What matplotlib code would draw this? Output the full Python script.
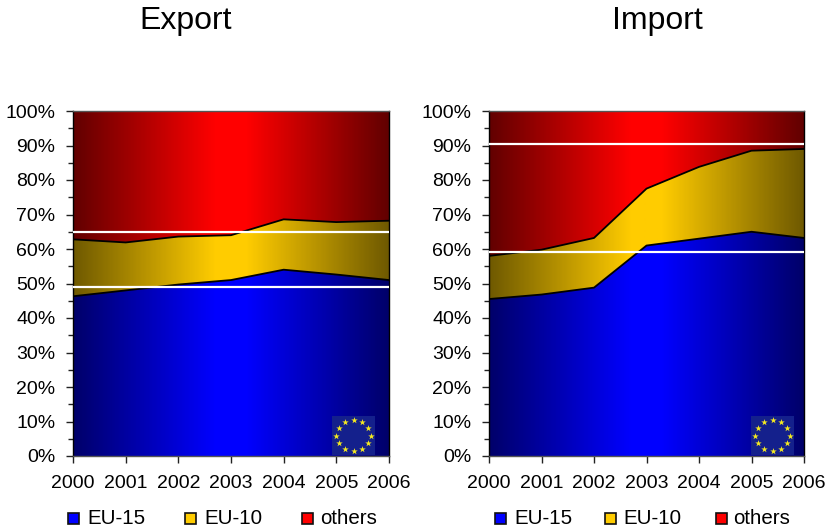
"""Export / import shares as stacked areas with a horizontal dark-bright-dark gradient."""
import numpy as np
import matplotlib
matplotlib.use("Agg")
import matplotlib.pyplot as plt
from matplotlib.colors import LinearSegmentedColormap
from matplotlib.patches import Rectangle
from matplotlib.ticker import MultipleLocator, FuncFormatter

plt.rcParams["font.family"] = ["Liberation Sans", "DejaVu Sans"]

# ── Data (cumulative tops of the stacked areas, percent) ─────────
YEARS = [2000, 2001, 2002, 2003, 2004, 2005, 2006]
EXPORT_EU15 = [46.3, 48.0, 49.7, 51.0, 54.0, 52.6, 51.0]
EXPORT_EU10 = [62.8, 61.9, 63.6, 64.0, 68.6, 67.8, 68.2]
IMPORT_EU15 = [45.5, 46.8, 48.8, 61.0, 63.0, 65.0, 63.2]
IMPORT_EU10 = [58.0, 59.8, 63.2, 77.5, 83.8, 88.5, 89.0]
EXPORT_LINES = [49, 65]
IMPORT_LINES = [59, 90.5]
LEGEND_LABELS = ["EU-15", "EU-10", "others"]

# ── Colors ───────────────────────────────────────────────────────
CLR_BLUE = "#0000ff"
CLR_GOLD = "#ffcc00"
CLR_RED = "#ff0000"
CLR_BLUE_DK = "#00006a"
CLR_GOLD_DK = "#6f5900"
CLR_RED_DK = "#620000"
CLR_FLAG = "#14208c"
CLR_STAR = "#f5ea20"

W, H = 827, 531


def gradient_fill(ax, x, low, high, dark, bright):
    """Area between low and high, shaded dark at the edges and bright in the middle."""
    cmap = LinearSegmentedColormap.from_list(
        "g", [(0, dark), (0.45, bright), (0.55, bright), (1, dark)])
    grad = np.linspace(0, 1, 316).reshape(1, -1)
    poly = ax.fill_between(x, low, high, facecolor="none", edgecolor="none")
    im = ax.imshow(grad, extent=(x[0], x[-1], 0, 100), aspect="auto",
                   cmap=cmap, zorder=1)
    im.set_clip_path(poly.get_paths()[0], transform=ax.transData)


def draw_flag(fig, box):
    """EU flag badge in the lower right corner of a panel."""
    left, top, w, h = box
    fax = fig.add_axes([left / W, 1 - (top + h) / H, w / W, h / H])
    fax.set_facecolor(CLR_FLAG)
    fax.set_xlim(-1, 1)
    fax.set_ylim(-1, 1)
    ang = np.deg2rad(np.arange(0, 360, 30))
    fax.scatter(0.8 * np.cos(ang), 0.8 * np.sin(ang), marker="*", s=24,
                color=CLR_STAR, linewidths=0)
    fax.set_xticks([])
    fax.set_yticks([])
    for sp in fax.spines.values():
        sp.set_visible(False)


def draw_legend(fig, box_x, text_x):
    """Hand-placed legend row, spacing differs between the panels."""
    colors = (CLR_BLUE, CLR_GOLD, CLR_RED)
    for bx, tx, col, lab in zip(box_x, text_x, colors, LEGEND_LABELS):
        fig.add_artist(Rectangle((bx / W, 1 - 524 / H), 11 / W, 11 / H,
                                 transform=fig.transFigure, facecolor=col,
                                 edgecolor="#111111", linewidth=1.2))
        fig.text(tx / W, 1 - 518 / H, lab, fontsize=14.8, ha="left", va="center")


def draw_panel(fig, rect, title, title_x, eu15, eu10, lines, flag_box, box_x, text_x):
    ax = fig.add_axes(rect)
    gradient_fill(ax, YEARS, [0] * len(YEARS), eu15, CLR_BLUE_DK, CLR_BLUE)
    gradient_fill(ax, YEARS, eu15, eu10, CLR_GOLD_DK, CLR_GOLD)
    gradient_fill(ax, YEARS, eu10, [100] * len(YEARS), CLR_RED_DK, CLR_RED)
    ax.plot(YEARS, eu15, color="black", lw=1.3, zorder=2)
    ax.plot(YEARS, eu10, color="black", lw=1.3, zorder=2)
    for val in lines:
        ax.axhline(val, color="white", lw=1.6, zorder=3)

    ax.set_xlim(YEARS[0], YEARS[-1])
    ax.set_ylim(0, 100)
    ax.set_xticks(YEARS)
    ax.yaxis.set_major_locator(MultipleLocator(10))
    ax.yaxis.set_minor_locator(MultipleLocator(5))
    ax.yaxis.set_major_formatter(FuncFormatter(lambda v, _: f"{v:.0f}%"))
    ax.tick_params(axis="y", which="major", labelsize=14, length=4.7,
                   width=1.0, color="#222222", pad=8)
    ax.tick_params(axis="x", which="major", labelsize=14, length=4.7,
                   width=1.0, color="#222222", pad=9)
    ax.tick_params(axis="y", which="minor", length=3.5, width=1.0, color="#222222")
    for side in ("top", "bottom"):
        ax.spines[side].set_color("#555555")
    for sp in ax.spines.values():
        sp.set_linewidth(1.0)

    fig.text(title_x / W, 1 - 21 / H, title, fontsize=23, ha="center", va="center")
    draw_flag(fig, flag_box)
    draw_legend(fig, box_x, text_x)
    return ax


fig = plt.figure(figsize=(8.27, 5.31), dpi=100, facecolor="white")

draw_panel(fig, [73 / W, 1 - 456 / H, 316 / W, 345 / H],
           "Export", 186, EXPORT_EU15, EXPORT_EU10, EXPORT_LINES,
           (332, 416, 43, 39), (68, 185, 302), (87, 204, 320))
draw_panel(fig, [489 / W, 1 - 456 / H, 315 / W, 345 / H],
           "Import", 657, IMPORT_EU15, IMPORT_EU10, IMPORT_LINES,
           (751, 416, 43, 39), (495, 605, 716), (514, 623, 733))

fig.savefig("out.png", dpi=100)
plt.close(fig)
